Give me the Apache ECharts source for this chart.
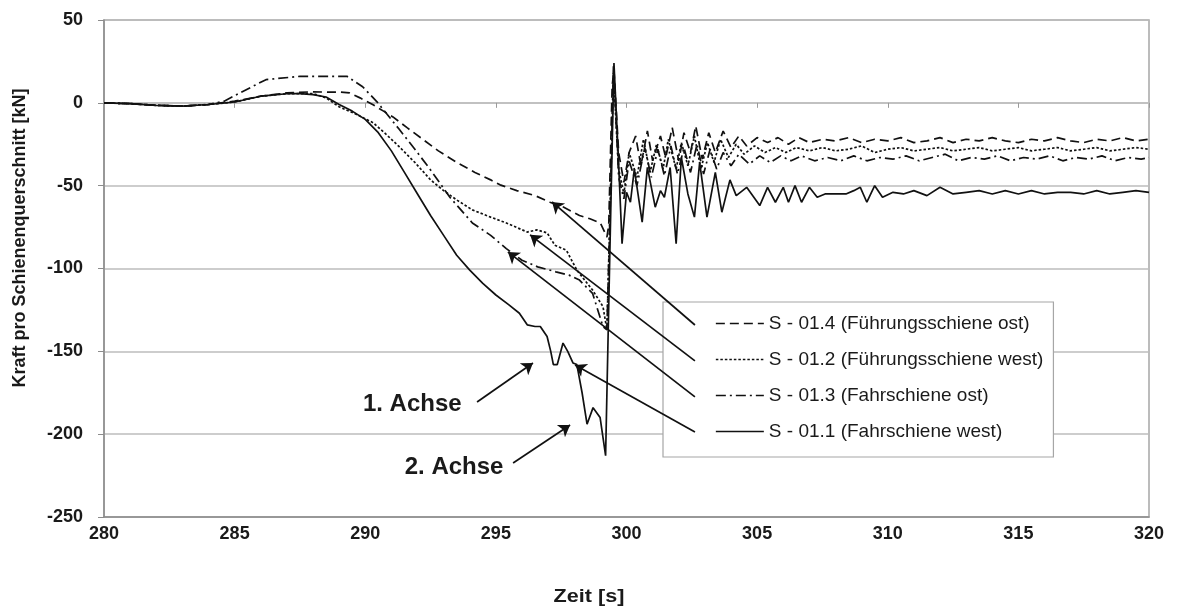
<!DOCTYPE html>
<html><head><meta charset="utf-8">
<script src="https://cdn.jsdelivr.net/npm/echarts@6/dist/echarts.min.js"></script>
<style>html,body{margin:0;padding:0;background:#fff}#c{width:1178px;height:613px}</style>
</head><body><div id="c"></div>
<script>
// ---- data ----
const s011_t = [280,281,282,283,284,285,286,287,287.5,288,288.5,289,289.5,290,290.5,291,291.5,292,292.5,293,293.5,294,294.5,295,295.5,295.9,296.2,296.5,296.7,296.96,297.1,297.2,297.35,297.57,297.75,297.95,298.1,298.3,298.49,298.72,298.99,299.2,299.35,299.52,299.68,299.83,300.0,300.15,300.3,300.6,300.8,301.1,301.3,301.45,301.67,301.9,302.1,302.35,302.6,302.8,303.08,303.4,303.65,303.96,304.2,304.6,305.1,305.4,305.7,306.0,306.2,306.45,306.7,307.0,307.3,307.6,307.9,308.4,308.7,308.95,309.2,309.5,309.8,310.2,310.6,311,311.5,312,312.5,313,313.5,314,314.5,315,315.5,316,316.5,317,317.5,318,318.5,319,319.5,320];
const s011_v = [0,-0.5,-1.5,-2,-1,0.5,4,5.5,5.5,5,3.5,-1,-5,-10,-18,-29,-42,-55,-68,-80,-92,-101,-109,-116,-122,-127,-134,-135,-135,-141,-150,-158,-158,-145,-150,-157,-158,-175,-194,-184,-190,-213,-100,24,-30,-85,-54,-60,-40,-72,-39,-63,-53,-57,-39,-85,-33,-55,-69,-36,-69,-42,-66,-46.5,-56,-51,-62,-51,-60,-51,-60,-50,-60,-51,-57,-55,-55,-55,-53,-51,-60,-50,-57,-54,-55,-53,-56,-51,-55,-54,-53,-55,-53,-55,-53,-55,-54,-54,-55,-53,-55,-54,-53,-54];

const s014_t = [280,281,282,283,284,285,286,287,287.9,288.5,289,289.4,289.8,290.3,290.7,291.06,291.6,292.2,292.8,293.5,294.2,294.8,295.16,295.8,296.5,297.07,297.6,298.2,298.6,299.0,299.25,299.32,299.45,299.52,299.7,299.9,300.1,300.35,300.55,300.8,301.0,301.3,301.5,301.75,302.0,302.2,302.45,302.65,302.9,303.15,303.4,303.7,304.0,304.3,304.6,305.0,305.4,305.8,306.2,306.6,307,307.5,308,308.5,309,309.5,310,310.5,311,311.5,312,312.5,313,313.5,314,314.5,315,315.5,316,316.5,317,317.5,318,318.5,319,319.5,320];
const s014_v = [0,-0.5,-1.5,-2,-1,1,4,6,6.6,6.5,6.5,6,3,-1.2,-5,-8.5,-15,-22,-29,-36,-42,-46.5,-49.5,-53,-56,-60,-63,-68,-70,-72.5,-81,-74,10,20,-30,-48,-30,-20,-38,-17,-35,-20,-33,-15,-35,-18,-30,-14,-34,-18,-30,-17,-27,-20,-26,-21,-24,-21,-25,-21,-24,-22,-23,-21,-24,-22,-23,-21,-24,-23,-21,-24,-22,-23,-21,-23,-24,-22,-23,-21,-23,-24,-22,-23,-21,-23,-22];

const s012_t = [280,281,282,283,284,285,286,287,288,288.5,289,289.6,290.3,290.8,291.3,291.9,292.5,293,293.5,294.1,294.8,295.4,296.2,296.57,296.96,297.26,297.7,298.1,298.7,299.1,299.25,299.38,299.5,299.7,299.9,300.1,300.4,300.65,300.9,301.15,301.4,301.6,301.9,302.1,302.35,302.6,302.85,303.1,303.35,303.6,303.9,304.2,304.5,304.9,305.3,305.7,306.1,306.5,307,307.5,308,308.5,309,309.5,310,310.5,311,311.5,312,312.5,313,313.5,314,314.5,315,315.5,316,316.5,317,317.5,318,318.5,319,319.5,320];
const s012_v = [0,-0.5,-1.5,-2,-1,0.5,4,5.5,5.5,3,-2.4,-6.5,-12,-19,-26.5,-36,-46.5,-53,-58.6,-64.6,-69,-72.5,-78,-76.7,-78.5,-86,-89,-101,-113,-123,-137,-60,18,-40,-55,-30,-45,-22,-42,-25,-40,-22,-40,-24,-38,-20,-40,-24,-36,-22,-33,-25,-31,-26,-30,-27,-30,-27,-29,-27,-29,-28,-26,-30,-28,-27,-29,-28,-27,-29,-28,-27,-29,-28,-27,-29,-28,-27,-29,-28,-27,-29,-28,-27,-28];

const s013_t = [280,281,282,283,284,284.6,285.2,286.2,287.5,288.5,289.3,289.9,290.45,291.3,291.9,292.5,293.24,294.1,294.8,295.4,296.0,296.6,297.3,297.8,298.2,298.7,299.1,299.25,299.38,299.5,299.7,299.9,300.1,300.4,300.7,300.95,301.2,301.45,301.7,301.95,302.2,302.45,302.7,302.95,303.2,303.45,303.7,304.0,304.3,304.7,305.1,305.5,305.9,306.3,306.7,307.2,307.7,308.2,308.7,309.2,309.7,310.2,310.7,311.2,311.7,312.2,312.7,313.2,313.7,314.2,314.7,315.2,315.7,316.2,316.7,317.2,317.7,318.2,318.7,319.2,319.7,320];
const s013_v = [0,-0.5,-1.5,-2,-1,1,6,14,16,16,16,9.7,0.6,-16,-28,-40.5,-57,-72.5,-80,-88,-95,-99,-102,-104,-107,-115,-135,-137,-60,22,-45,-58,-35,-50,-27,-45,-28,-44,-26,-43,-27,-42,-25,-43,-28,-40,-30,-38,-31,-37,-32,-36,-32,-35,-32,-35,-33,-35,-32,-35,-33,-34,-32,-35,-33,-31,-35,-33,-34,-32,-35,-33,-34,-32,-35,-33,-34,-32,-35,-33,-34,-33];

const seriesNames = ['S - 01.4 (Führungsschiene ost)','S - 01.2 (Führungsschiene west)','S - 01.3 (Fahrschiene ost)','S - 01.1 (Fahrschiene west)'];
const xTitle = 'Zeit [s]';
const yTitle = 'Kraft pro Schienenquerschnitt [kN]';
// annotation arrows [start, end(arrowhead)] in data units
const arrows = [
  [[302.62,-134.1],[297.15,-59.8]],
  [[302.62,-155.8],[296.31,-79.7]],
  [[302.62,-177.5],[295.46,-90]],
  [[302.62,-198.7],[298.03,-158.2]],
  [[294.28,-180.6],[296.42,-157]],
  [[295.66,-217.4],[297.84,-194.5]]
];
const labels = [['1. Achse',291.8,-182],['2. Achse',293.4,-220]];

function zip(t,v){return t.map((x,i)=>[x,v[i]]);}
const FONT = "'Liberation Sans', Arial, sans-serif";
const lineBase = {type:'line', symbol:'none', showSymbol:false, smooth:false, animation:false, silent:true};

const chart = echarts.init(document.getElementById('c'), null, {renderer:'canvas'});
chart.setOption({
  animation:false,
  backgroundColor:'#fff',
  grid:{left:104,right:29,top:20,bottom:96,show:true,borderColor:'#a6a6a6',borderWidth:1.5},
  xAxis:[{
    type:'value',min:280,max:320,interval:5,
    axisLine:{onZero:false,show:true,lineStyle:{color:'#8c8c8c',width:1.5}},
    axisTick:{show:false},splitLine:{show:false},
    axisLabel:{margin:8,color:'#1a1a1a',fontFamily:FONT,fontWeight:'bold',fontSize:18}
  },{
    type:'value',min:280,max:320,interval:5,position:'bottom',
    axisLine:{onZero:true,show:true,lineStyle:{color:'#bdbdbd',width:1.5}},
    axisTick:{show:true,length:5,lineStyle:{color:'#9a9a9a',width:1}},
    axisLabel:{show:false},splitLine:{show:false}
  }],
  yAxis:{
    type:'value',min:-250,max:50,interval:50,
    axisLine:{show:true,lineStyle:{color:'#8c8c8c',width:1.5}},
    axisTick:{show:true,length:6,lineStyle:{color:'#8c8c8c'}},
    splitLine:{show:true,lineStyle:{color:'#bdbdbd',width:1.5}},
    axisLabel:{margin:21,color:'#1a1a1a',fontFamily:FONT,fontWeight:'bold',fontSize:18}
  },
  legend:{
    orient:'vertical',left:663,top:302,
    data:seriesNames,
    backgroundColor:'#fff',borderColor:'#a6a6a6',borderWidth:1.2,
    padding:[11,10,15,52],itemGap:15,itemWidth:48,itemHeight:14,
    itemStyle:{opacity:0,borderWidth:0},
    lineStyle:{width:1.7},
    textStyle:{fontFamily:FONT,fontSize:19,color:'#1a1a1a',lineHeight:21},
    selectedMode:false
  },
  series:[
    Object.assign({},lineBase,{name:seriesNames[0],data:zip(s014_t,s014_v),lineStyle:{color:'#111',width:1.7,type:[9,5]},itemStyle:{color:'#111'}}),
    Object.assign({},lineBase,{name:seriesNames[1],data:zip(s012_t,s012_v),lineStyle:{color:'#111',width:1.7,type:[2.5,2]},itemStyle:{color:'#111'}}),
    Object.assign({},lineBase,{name:seriesNames[2],data:zip(s013_t,s013_v),lineStyle:{color:'#111',width:1.7,type:[10,4,2,4]},itemStyle:{color:'#111'}}),
    Object.assign({},lineBase,{name:seriesNames[3],data:zip(s011_t,s011_v),lineStyle:{color:'#111',width:1.7,type:'solid'},itemStyle:{color:'#111'}}),
    {type:'lines',coordinateSystem:'cartesian2d',silent:true,animation:false,z:5,
     symbol:['none','arrow'],symbolSize:11,
     lineStyle:{color:'#111',width:1.7,opacity:1,curveness:0},
     data:arrows.map(a=>({coords:a}))},
    {type:'scatter',silent:true,animation:false,symbolSize:0,
     itemStyle:{opacity:1,color:'#1a1a1a'},
     data:labels.map(l=>({name:l[0],value:[l[1],l[2]]})),
     label:{show:true,position:'inside',formatter:p=>p.name,fontFamily:FONT,fontWeight:'bold',fontSize:24,color:'#1a1a1a',opacity:1,textBorderWidth:0}}
  ],
  graphic:[
    {type:'text',x:20,y:238,rotation:Math.PI/2,
     style:{text:yTitle,fontFamily:FONT,fontWeight:'bold',fontSize:18,fill:'#1a1a1a',textAlign:'center',textVerticalAlign:'middle'}},
    {type:'text',x:589,y:597,scaleX:1.2,
     style:{text:xTitle,fontFamily:FONT,fontWeight:'bold',fontSize:18,fill:'#1a1a1a',textAlign:'center',textVerticalAlign:'middle'}}
  ]
});
</script></body></html>
